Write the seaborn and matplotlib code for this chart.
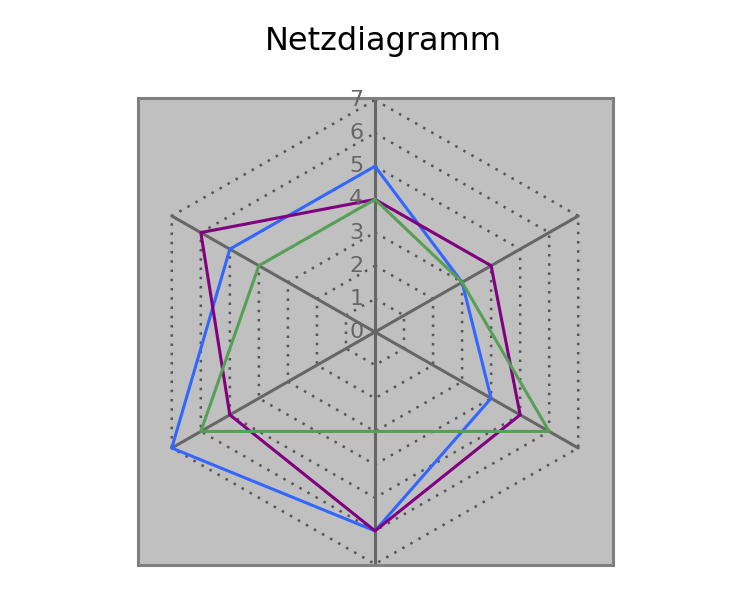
import numpy as np
import pandas as pd
import matplotlib
matplotlib.use('Agg')
import matplotlib.pyplot as plt
import seaborn as sns

# Werte je Achse, beginnend oben, im Uhrzeigersinn
achsen = ['A1', 'A2', 'A3', 'A4', 'A5', 'A6']
reihe_blau = [5, 3, 4, 6, 7, 5]
reihe_lila = [4, 4, 5, 6, 5, 6]
reihe_gruen = [4, 3, 6, 3, 6, 4]
skala = [0, 1, 2, 3, 4, 5, 6, 7]

farben = {'blau': '#3366ff', 'lila': '#800080', 'gruen': '#55a055'}
reihen = {'blau': reihe_blau, 'lila': reihe_lila, 'gruen': reihe_gruen}

sns.set_theme(style='white')
plt.rcParams['font.family'] = ['DejaVu Sans']

n = len(achsen)
winkel = np.pi / 2 - np.arange(n) * 2 * np.pi / n
rmax = max(skala)


def polygon(werte):
    w = np.append(werte, werte[0])
    a = np.append(winkel, winkel[0])
    return pd.DataFrame({'x': w * np.cos(a), 'y': w * np.sin(a)})


fig = plt.figure(figsize=(7.5, 6), dpi=100)
ax = fig.add_axes([138 / 750, 35 / 600, 475 / 750, 467 / 600])
ax.set_facecolor('#c0c0c0')
for s in ax.spines.values():
    s.set_color('#808080')
    s.set_linewidth(2.2)

# gepunktete Gitter-Sechsecke
for r in skala[1:]:
    g = polygon(np.full(n, r))
    ax.plot(g['x'], g['y'], color='#555555', linewidth=1.8,
            linestyle=(0, (1, 2.7)), zorder=1)

# Speichen
for a in winkel:
    ax.plot([0, rmax * np.cos(a)], [0, rmax * np.sin(a)],
            color='#666666', linewidth=2.2, zorder=2)

for name, werte in reihen.items():
    df = polygon(np.array(werte, dtype=float))
    sns.lineplot(data=df, x='x', y='y', sort=False, estimator=None,
                 color=farben[name], linewidth=2.2, ax=ax, zorder=3)

for r in skala:
    ax.text(-0.35, r, str(r), ha='right', va='center', fontsize=16,
            color='#666666', zorder=4)

ax.set_xlim(-7.07, 7.10)
ax.set_ylim(-7.03, 7.06)
ax.set_xticks([])
ax.set_yticks([])
ax.set_xlabel('')
ax.set_ylabel('')

fig.text(383.5 / 750, 1 - 50 / 600, 'Netzdiagramm', ha='center',
         va='baseline', fontsize=23, color='black')

fig.savefig('out.png', dpi=100)
